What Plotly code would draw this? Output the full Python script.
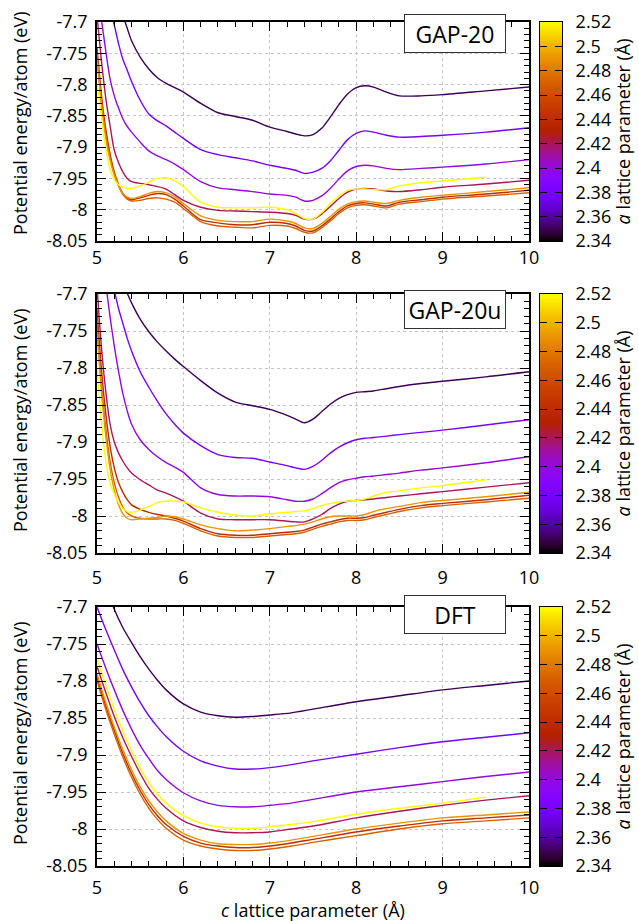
import math
import numpy as np
import plotly.graph_objects as go

# ---------------- data ----------------
A_VALUES = [2.35, 2.38, 2.40, 2.42, 2.44, 2.47, 2.49, 2.52]
CB_MIN, CB_MAX = 2.34, 2.52

GRID_GAP = [5.0, 5.05, 5.1, 5.15, 5.2, 5.25, 5.3, 5.35, 5.4, 5.5, 5.6, 5.7, 5.8, 5.9, 6.0,
            6.2, 6.4, 6.6, 6.8, 7.0, 7.2, 7.3, 7.4, 7.5, 7.6, 7.7, 7.8, 7.9, 8.0, 8.1, 8.2,
            8.35, 8.5, 8.75, 9.0, 9.5, 10.0]
GRID_DFT = [5.0, 5.1, 5.2, 5.3, 5.4, 5.5, 5.6, 5.7, 5.8, 6.0, 6.2, 6.4, 6.6, 6.8, 7.0,
            7.25, 7.5, 8.0, 8.5, 9.0, 9.5, 10.0]

# GAP-20
GAP20_235 = [None, None, None, None, None, None, -7.69, -7.71, -7.73, -7.756, -7.775, -7.789, -7.798, -7.805, -7.812,
             -7.830, -7.845, -7.851, -7.857, -7.868, -7.875, -7.879, -7.882, -7.880, -7.870, -7.852, -7.832, -7.815, -7.805, -7.802, -7.804,
             -7.812, -7.818, -7.818, -7.816, -7.810, -7.804]
GAP20_238 = [None, None, None, -7.68, -7.705, -7.735, -7.76, -7.777, -7.795, -7.825, -7.847, -7.858, -7.866, -7.876, -7.886,
             -7.904, -7.912, -7.917, -7.922, -7.929, -7.934, -7.937, -7.942, -7.940, -7.934, -7.922, -7.905, -7.888, -7.878, -7.874, -7.876,
             -7.881, -7.884, -7.883, -7.881, -7.876, -7.869]
GAP20_240 = [None, -7.695, -7.745, -7.79, -7.818, -7.838, -7.855, -7.867, -7.876, -7.892, -7.906, -7.914, -7.920, -7.927, -7.936,
             -7.955, -7.965, -7.968, -7.971, -7.975, -7.977, -7.980, -7.986, -7.985, -7.978, -7.966, -7.951, -7.938, -7.931, -7.929, -7.930,
             -7.934, -7.936, -7.934, -7.932, -7.927, -7.920]
GAP20_242 = [-7.69, -7.76, -7.82, -7.865, -7.905, -7.925, -7.94, -7.95, -7.955, -7.958, -7.960, -7.963, -7.967, -7.976, -7.985,
             -7.996, -8.001, -8.002, -8.003, -8.004, -8.006, -8.009, -8.015, -8.015, -8.007, -7.995, -7.982, -7.972, -7.967, -7.966, -7.967,
             -7.970, -7.971, -7.968, -7.964, -7.959, -7.953]
GAP20_244 = [-7.74, -7.815, -7.87, -7.91, -7.94, -7.96, -7.974, -7.981, -7.984, -7.981, -7.977, -7.974, -7.976, -7.983, -7.994,
             -8.016, -8.021, -8.024, -8.024, -8.020, -8.022, -8.026, -8.033, -8.034, -8.026, -8.015, -8.003, -7.994, -7.990, -7.989, -7.991,
             -7.994, -7.988, -7.984, -7.980, -7.975, -7.969]
GAP20_247 = [-7.75, -7.825, -7.878, -7.915, -7.943, -7.962, -7.976, -7.983, -7.986, -7.985, -7.982, -7.981, -7.983, -7.988, -7.998,
             -8.019, -8.026, -8.028, -8.029, -8.025, -8.026, -8.030, -8.036, -8.037, -8.029, -8.018, -8.006, -7.997, -7.993, -7.992, -7.994,
             -7.997, -7.991, -7.987, -7.983, -7.978, -7.973]
GAP20_249 = [-7.76, -7.83, -7.885, -7.92, -7.945, -7.962, -7.974, -7.980, -7.982, -7.979, -7.974, -7.971, -7.973, -7.979, -7.990,
             -8.010, -8.017, -8.019, -8.019, -8.015, -8.018, -8.022, -8.029, -8.030, -8.022, -8.011, -7.999, -7.991, -7.987, -7.986, -7.988,
             -7.990, -7.985, -7.980, -7.977, -7.971, -7.965]
GAP20_252 = [-7.80, -7.85, -7.90, -7.935, -7.952, -7.960, -7.964, -7.966, -7.966, -7.962, -7.956, -7.950, -7.949, -7.954, -7.963,
             -7.988, -7.996, -7.997, -7.997, -7.996, -8.000, -8.006, -8.014, -8.015, -8.005, -7.990, -7.978, -7.969, -7.967, -7.967, -7.968,
             -7.968, -7.962, -7.957, -7.954, -7.948, None]

# GAP-20u
GAP20U_235 = [None, None, None, None, None, None, -7.685, -7.699, -7.712, -7.734, -7.751, -7.765, -7.777, -7.788, -7.798,
              -7.817, -7.834, -7.846, -7.851, -7.856, -7.864, -7.869, -7.874, -7.869, -7.859, -7.849, -7.841, -7.836, -7.833, -7.832, -7.831,
              -7.828, -7.825, -7.821, -7.818, -7.812, -7.805]
GAP20U_238 = [None, None, None, None, -7.695, -7.72, -7.74, -7.76, -7.777, -7.805, -7.826, -7.845, -7.862, -7.876, -7.888,
              -7.905, -7.917, -7.921, -7.922, -7.927, -7.932, -7.935, -7.937, -7.933, -7.925, -7.915, -7.907, -7.901, -7.897, -7.895, -7.894,
              -7.892, -7.890, -7.887, -7.884, -7.877, -7.870]
GAP20U_240 = [None, None, -7.685, -7.73, -7.77, -7.805, -7.835, -7.858, -7.876, -7.897, -7.910, -7.920, -7.928, -7.934, -7.941,
              -7.962, -7.971, -7.973, -7.973, -7.974, -7.978, -7.980, -7.980, -7.977, -7.970, -7.962, -7.955, -7.951, -7.949, -7.947, -7.946,
              -7.944, -7.942, -7.938, -7.935, -7.928, -7.920]
GAP20U_242 = [-7.69, -7.77, -7.83, -7.875, -7.90, -7.915, -7.926, -7.935, -7.942, -7.951, -7.958, -7.965, -7.969, -7.974, -7.980,
              -7.996, -8.004, -8.005, -8.005, -8.005, -8.007, -8.008, -8.008, -8.004, -7.998, -7.990, -7.984, -7.980, -7.979, -7.978, -7.977,
              -7.975, -7.973, -7.970, -7.967, -7.961, -7.955]
GAP20U_244 = [-7.72, -7.80, -7.86, -7.905, -7.935, -7.955, -7.968, -7.978, -7.985, -7.991, -7.995, -7.998, -8.000, -8.003, -8.007,
              -8.017, -8.024, -8.026, -8.026, -8.024, -8.022, -8.021, -8.019, -8.015, -8.011, -8.008, -8.005, -8.003, -8.003, -8.002, -7.999,
              -7.995, -7.991, -7.986, -7.983, -7.978, -7.972]
GAP20U_247 = [-7.74, -7.82, -7.88, -7.925, -7.955, -7.975, -7.988, -7.996, -8.000, -8.003, -8.004, -8.004, -8.004, -8.006, -8.010,
              -8.020, -8.027, -8.029, -8.029, -8.027, -8.025, -8.024, -8.022, -8.018, -8.014, -8.011, -8.008, -8.006, -8.006, -8.005, -8.002,
              -7.998, -7.994, -7.989, -7.986, -7.981, -7.976]
GAP20U_249 = [-7.75, -7.83, -7.89, -7.935, -7.965, -7.985, -7.997, -8.003, -8.005, -8.004, -8.003, -8.002, -8.000, -8.001, -8.004,
              -8.012, -8.017, -8.020, -8.019, -8.017, -8.014, -8.013, -8.011, -8.008, -8.004, -8.001, -8.000, -8.000, -8.000, -7.998, -7.994,
              -7.990, -7.987, -7.982, -7.979, -7.974, -7.968]
GAP20U_252 = [-7.80, -7.87, -7.925, -7.955, -7.970, -7.982, -7.990, -7.994, -7.995, -7.992, -7.987, -7.982, -7.980, -7.980, -7.981,
              -7.989, -7.995, -7.999, -8.000, -7.997, -7.995, -7.994, -7.993, -7.990, -7.986, -7.983, -7.981, -7.980, -7.979, -7.977, -7.973,
              -7.968, -7.966, -7.962, -7.959, -7.951, None]

# DFT
DFT_235 = [None, -7.67, -7.703, -7.728, -7.748, -7.767, -7.784, -7.799, -7.812, -7.831, -7.842, -7.847, -7.849, -7.848, -7.846,
           -7.843, -7.838, -7.828, -7.820, -7.812, -7.806, -7.800]
DFT_238 = [-7.700, -7.730, -7.758, -7.785, -7.808, -7.829, -7.847, -7.862, -7.875, -7.895, -7.908, -7.915, -7.919, -7.919, -7.917,
           -7.913, -7.908, -7.899, -7.890, -7.882, -7.876, -7.870]
DFT_240 = [-7.750, -7.782, -7.812, -7.840, -7.865, -7.887, -7.905, -7.921, -7.933, -7.951, -7.962, -7.968, -7.970, -7.970, -7.968,
           -7.965, -7.960, -7.950, -7.943, -7.936, -7.929, -7.923]
DFT_242 = [-7.780, -7.815, -7.848, -7.877, -7.902, -7.925, -7.945, -7.960, -7.972, -7.989, -7.998, -8.003, -8.005, -8.005, -8.004,
           -8.000, -7.996, -7.985, -7.976, -7.968, -7.961, -7.955]
DFT_244 = [-7.795, -7.833, -7.867, -7.898, -7.925, -7.948, -7.967, -7.982, -7.994, -8.010, -8.019, -8.023, -8.025, -8.025, -8.023,
           -8.019, -8.014, -8.004, -7.996, -7.989, -7.985, -7.981]
DFT_247 = [-7.800, -7.838, -7.872, -7.903, -7.930, -7.953, -7.972, -7.987, -7.999, -8.015, -8.023, -8.027, -8.029, -8.029, -8.027,
           -8.023, -8.018, -8.009, -8.000, -7.993, -7.989, -7.985]
DFT_249 = [-7.790, -7.828, -7.862, -7.893, -7.920, -7.943, -7.962, -7.977, -7.989, -8.006, -8.015, -8.020, -8.021, -8.021, -8.019,
           -8.015, -8.010, -8.000, -7.992, -7.985, -7.981, -7.977]
DFT_252 = [-7.770, -7.805, -7.838, -7.868, -7.894, -7.918, -7.937, -7.953, -7.965, -7.982, -7.992, -7.997, -7.999, -7.999, -7.997,
           -7.994, -7.990, -7.980, -7.972, -7.965, -7.957, None]

PANEL_TITLES = ["GAP-20", "GAP-20u", "DFT"]
X_TICKS = [5, 6, 7, 8, 9, 10]
Y_TICKS = [-7.7, -7.75, -7.8, -7.85, -7.9, -7.95, -8.0, -8.05]
Y_TICK_TEXT = ["-7.7", "-7.75", "-7.8", "-7.85", "-7.9", "-7.95", "-8", "-8.05"]
CB_TICKS = [2.34, 2.36, 2.38, 2.40, 2.42, 2.44, 2.46, 2.48, 2.50, 2.52]
CB_TICK_TEXT = ["2.34", "2.36", "2.38", "2.4", "2.42", "2.44", "2.46", "2.48", "2.5", "2.52"]

# ---------------- styling ----------------
W, H = 639, 921
FONT = "Open Sans"
FS = 18


def palette(a):
    x = min(1.0, max(0.0, (a - CB_MIN) / (CB_MAX - CB_MIN)))
    r = math.sqrt(x)
    g = x ** 3
    b = max(0.0, math.sin(2 * math.pi * x))
    return "rgb(%d,%d,%d)" % (round(255 * r), round(255 * g), round(255 * b))


colorscale = [[i / 40, palette(CB_MIN + (CB_MAX - CB_MIN) * i / 40)] for i in range(41)]

# pixel layout (top, bottom) of each panel
PANEL_PX = [(22, 241), (294, 553), (607, 866)]
PLOT_X_PX = (97, 529)
CB_X_PX = (540, 562)
BOX_CENTER_PX = [33.5, 310, 614]
YTITLE_CENTER_PX = [124, 421, 734]
XLABEL_STANDOFF = [0, 8, 5]


def ydom(top, bot):
    return [1 - bot / H, 1 - top / H]


fig = go.Figure()

panels = [
    (GRID_GAP, [GAP20_235, GAP20_238, GAP20_240, GAP20_242, GAP20_244, GAP20_247, GAP20_249, GAP20_252]),
    (GRID_GAP, [GAP20U_235, GAP20U_238, GAP20U_240, GAP20U_242, GAP20U_244, GAP20U_247, GAP20U_249, GAP20U_252]),
    (GRID_DFT, [DFT_235, DFT_238, DFT_240, DFT_242, DFT_244, DFT_247, DFT_249, DFT_252]),
]

axis_common = dict(
    showline=True, linecolor="black", linewidth=1.5, mirror="allticks",
    ticks="inside", ticklen=9, tickwidth=1, tickcolor="black",
    showgrid=True, gridcolor="#c4c4c4", griddash="dot", gridwidth=1,
    zeroline=False, automargin=False,
    tickfont=dict(family=FONT, size=FS, color="black"),
)

for i, (grid, series) in enumerate(panels):
    n = i + 1
    xa = "x" if n == 1 else "x%d" % n
    ya = "y" if n == 1 else "y%d" % n
    for a, ys in zip(A_VALUES, series):
        fig.add_trace(go.Scatter(
            x=grid, y=ys, mode="lines", xaxis=xa, yaxis=ya, showlegend=False,
            line=dict(color=palette(a), width=1.4, shape="spline", smoothing=0.8),
            hoverinfo="skip",
        ))
    top, bot = PANEL_PX[i]
    fig.update_layout(**{
        ("xaxis" if n == 1 else "xaxis%d" % n): dict(
            axis_common, domain=[PLOT_X_PX[0] / W, PLOT_X_PX[1] / W], range=[5, 10],
            anchor=ya, tickmode="array", tickvals=X_TICKS,
            ticklabelstandoff=XLABEL_STANDOFF[i],
            minor=dict(tickmode="linear", tick0=5, dtick=0.2, ticks="inside", ticklen=5,
                       tickcolor="black", showgrid=False),
        ),
        ("yaxis" if n == 1 else "yaxis%d" % n): dict(
            axis_common, domain=ydom(top, bot), range=[-8.05, -7.7],
            anchor=xa, tickmode="array", tickvals=Y_TICKS, ticktext=Y_TICK_TEXT,
            ticklabelstandoff=4,
            minor=dict(tickmode="linear", tick0=-8.05, dtick=0.01, ticks="inside", ticklen=5,
                       tickcolor="black", showgrid=False),
        ),
    })

    # colour bar drawn as a heatmap on its own axes
    cn = n + 3
    cb_vals = np.linspace(CB_MIN, CB_MAX, 181)
    fig.add_trace(go.Heatmap(
        x=[0], y=cb_vals, z=[[v] for v in cb_vals], colorscale=colorscale,
        zmin=CB_MIN, zmax=CB_MAX, showscale=False, xaxis="x%d" % cn, yaxis="y%d" % cn,
        hoverinfo="skip",
    ))
    fig.update_layout(**{
        "xaxis%d" % cn: dict(domain=[CB_X_PX[0] / W, CB_X_PX[1] / W], range=[-0.5, 0.5],
                             anchor="y%d" % cn, showticklabels=False, ticks="",
                             showline=True, linecolor="black", linewidth=1, mirror=True,
                             showgrid=False, zeroline=False, automargin=False),
        "yaxis%d" % cn: dict(domain=ydom(top, bot), range=[CB_MIN, CB_MAX], anchor="x%d" % cn,
                             side="right", tickmode="array", tickvals=CB_TICKS, ticktext=CB_TICK_TEXT,
                             ticks="inside", ticklen=7, tickcolor="black", mirror="allticks",
                             showline=True, linecolor="black", linewidth=1,
                             showgrid=False, zeroline=False, automargin=False,
                             ticklabelstandoff=9,
                             tickfont=dict(family=FONT, size=FS, color="black"),
                             title=dict(text="<i>a</i> lattice parameter (Å)", standoff=5,
                                        font=dict(family=FONT, size=FS, color="black"))),
    })

    fig.add_annotation(
        x=455 / W, y=1 - BOX_CENTER_PX[i] / H, xref="paper", yref="paper",
        text=PANEL_TITLES[i], showarrow=False, xanchor="center", yanchor="middle",
        width=100, height=37, borderpad=0, bordercolor="#333333", borderwidth=1,
        bgcolor="white", font=dict(family=FONT, size=23, color="black"),
    )
    fig.add_annotation(
        x=20 / W, y=1 - YTITLE_CENTER_PX[i] / H, xref="paper", yref="paper",
        text="Potential energy/atom (eV)", textangle=-90, showarrow=False,
        xanchor="center", yanchor="middle",
        font=dict(family=FONT, size=FS, color="black"),
    )

fig.add_annotation(
    x=313 / W, y=1 - 910 / H, xref="paper", yref="paper",
    text="<i>c</i> lattice parameter (Å)", showarrow=False,
    xanchor="center", yanchor="middle", borderpad=0,
    font=dict(family=FONT, size=FS, color="black"),
)

fig.update_layout(
    width=W, height=H, margin=dict(l=0, r=0, t=0, b=0),
    paper_bgcolor="white", plot_bgcolor="white",
    font=dict(family=FONT, size=FS, color="black"),
)

fig.write_html("out.html", config={"displayModeBar": False},
               post_script="document.body.style.margin='0';document.body.style.padding='0';"
                           "document.documentElement.style.overflow='hidden';")
